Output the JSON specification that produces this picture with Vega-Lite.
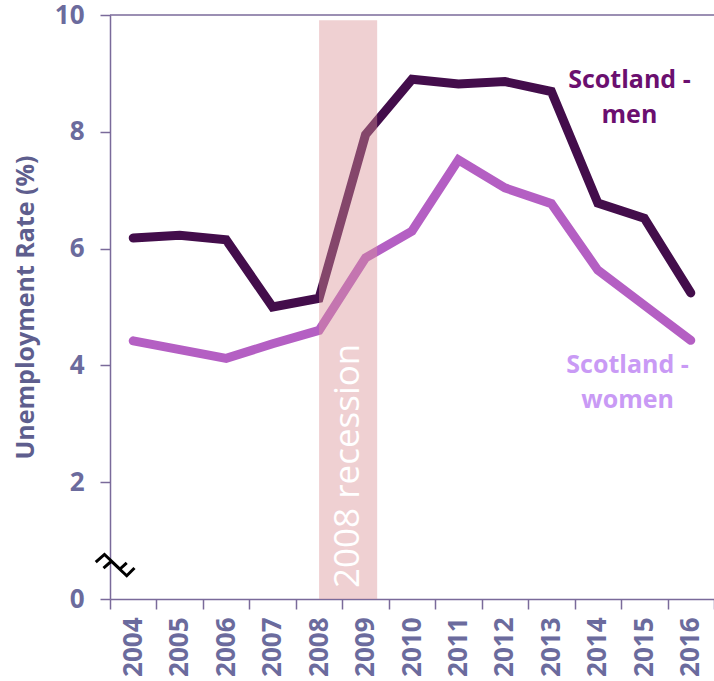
{
  "$schema": "https://vega.github.io/schema/vega-lite/v6.json",
  "autosize": "none",
  "width": 604,
  "height": 584,
  "padding": {"left": 110, "top": 15, "right": 0, "bottom": 82},
  "background": "white",
  "config": {
    "view": {"stroke": null},
    "font": "Open Sans",
    "axis": {"grid": false}
  },
  "datasets": {
    "rates": [
      {"year": "2004", "series": "Scotland - men", "rate": 6.18},
      {"year": "2005", "series": "Scotland - men", "rate": 6.23},
      {"year": "2006", "series": "Scotland - men", "rate": 6.15},
      {"year": "2007", "series": "Scotland - men", "rate": 5.0},
      {"year": "2008", "series": "Scotland - men", "rate": 5.15},
      {"year": "2009", "series": "Scotland - men", "rate": 7.95},
      {"year": "2010", "series": "Scotland - men", "rate": 8.9},
      {"year": "2011", "series": "Scotland - men", "rate": 8.82},
      {"year": "2012", "series": "Scotland - men", "rate": 8.86},
      {"year": "2013", "series": "Scotland - men", "rate": 8.69},
      {"year": "2014", "series": "Scotland - men", "rate": 6.78},
      {"year": "2015", "series": "Scotland - men", "rate": 6.52},
      {"year": "2016", "series": "Scotland - men", "rate": 5.24},
      {"year": "2004", "series": "Scotland - women", "rate": 4.42},
      {"year": "2005", "series": "Scotland - women", "rate": 4.27},
      {"year": "2006", "series": "Scotland - women", "rate": 4.12},
      {"year": "2007", "series": "Scotland - women", "rate": 4.37},
      {"year": "2008", "series": "Scotland - women", "rate": 4.6},
      {"year": "2009", "series": "Scotland - women", "rate": 5.84},
      {"year": "2010", "series": "Scotland - women", "rate": 6.3},
      {"year": "2011", "series": "Scotland - women", "rate": 7.52},
      {"year": "2012", "series": "Scotland - women", "rate": 7.04},
      {"year": "2013", "series": "Scotland - women", "rate": 6.77},
      {"year": "2014", "series": "Scotland - women", "rate": 5.63},
      {"year": "2015", "series": "Scotland - women", "rate": 5.03},
      {"year": "2016", "series": "Scotland - women", "rate": 4.43}
    ],
    "recession": [
      {"start": 2008.0, "end": 2009.25, "top": 9.91, "bottom": 0, "mid": 2008.62, "textY": 2.28, "label": "2008 recession"}
    ],
    "labels": [
      {"x": 2014.68, "y": 8.75, "text": ["Scotland -", "men"], "series": "Scotland - men"},
      {"x": 2014.64, "y": 3.87, "text": ["Scotland -", "women"], "series": "Scotland - women"}
    ],
    "breakmark": [
      {"x": 2003.61, "y": 0.58}
    ]
  },
  "layer": [
    {
      "data": {"name": "rates"},
      "mark": {"type": "line", "strokeWidth": 9, "strokeCap": "round", "strokeJoin": "miter"},
      "encoding": {
        "x": {
          "field": "year", "type": "ordinal",
          "scale": {"type": "band", "paddingInner": 0, "paddingOuter": 0},
          "axis": {
            "title": null,
            "labelAngle": -90,
            "labelFont": "Open Sans",
            "labelFontWeight": "bold",
            "labelFontSize": 26,
            "labelColor": "#6b6b9d",
            "labelPadding": 8,
            "tickBand": "extent",
            "tickSize": 10,
            "tickWidth": 1.5,
            "tickColor": "#7a6a9a",
            "domainColor": "#7a6a9a",
            "domainWidth": 1.5
          }
        },
        "y": {
          "field": "rate", "type": "quantitative",
          "scale": {"domain": [0, 10], "nice": false},
          "axis": {
            "title": "Unemployment Rate (%)",
            "titleFont": "Open Sans",
            "titleFontWeight": "bold",
            "titleFontSize": 25,
            "titleColor": "#5e5e8e",
            "titlePadding": 16,
            "values": [0, 2, 4, 6, 8, 10],
            "format": "d",
            "labelFont": "Open Sans",
            "labelFontWeight": "bold",
            "labelFontSize": 26,
            "labelColor": "#6b6b9d",
            "labelPadding": 16,
            "labelOverlap": false,
            "labelBound": false,
            "tickSize": 10,
            "tickWidth": 1.5,
            "tickColor": "#7a6a9a",
            "domainColor": "#7a6a9a",
            "domainWidth": 1.5
          }
        },
        "color": {
          "field": "series", "type": "nominal",
          "scale": {"domain": ["Scotland - men", "Scotland - women"], "range": ["#430d4b", "#b45fc3"]},
          "legend": null
        }
      }
    },
    {
      "layer": [
        {
          "data": {"values": [{"level": 10}]},
          "mark": {"type": "rule", "color": "#7a6a9a", "strokeWidth": 1.5},
          "encoding": {"y": {"field": "level", "type": "quantitative", "scale": {"domain": [0, 10], "nice": false}, "title": "Unemployment Rate (%)"}}
        },
        {
          "data": {"name": "recession"},
          "mark": {"type": "rect", "color": "#db9196", "opacity": 0.43},
          "encoding": {
            "x": {"field": "start", "type": "quantitative", "scale": {"domain": [2003.5, 2016.5], "nice": false, "zero": false}, "axis": null},
            "x2": {"field": "end"},
            "y": {"field": "bottom", "type": "quantitative", "scale": {"domain": [0, 10], "nice": false}, "title": "Unemployment Rate (%)"},
            "y2": {"field": "top"}
          }
        },
        {
          "data": {"name": "recession"},
          "mark": {"type": "text", "color": "white", "font": "Open Sans", "fontSize": 35, "angle": -90, "align": "center", "baseline": "middle"},
          "encoding": {
            "x": {"field": "mid", "type": "quantitative", "scale": {"domain": [2003.5, 2016.5], "nice": false, "zero": false}, "axis": null},
            "y": {"field": "textY", "type": "quantitative", "scale": {"domain": [0, 10], "nice": false}, "title": "Unemployment Rate (%)"},
            "text": {"field": "label"}
          }
        },
        {
          "data": {"name": "labels"},
          "mark": {"type": "text", "font": "Open Sans", "fontWeight": "bold", "fontSize": 25, "align": "center", "baseline": "alphabetic", "lineHeight": 35},
          "encoding": {
            "x": {"field": "x", "type": "quantitative", "scale": {"domain": [2003.5, 2016.5], "nice": false, "zero": false}, "axis": null},
            "y": {"field": "y", "type": "quantitative", "scale": {"domain": [0, 10], "nice": false}, "title": "Unemployment Rate (%)"},
            "text": {"field": "text"},
            "color": {"field": "series", "type": "nominal", "scale": {"domain": ["Scotland - men", "Scotland - women"], "range": ["#6b0f6f", "#c99af5"]}, "legend": null}
          }
        },
        {
          "data": {"name": "breakmark"},
          "mark": {
            "type": "point",
            "shape": "M-1,-0.15 L-0.55,-0.55 L0.25,0.2 L0.6,-0.12 M-0.6,0.15 L-0.2,-0.2 L0.6,0.55 L1,0.15",
            "size": 1500,
            "filled": false,
            "stroke": "black",
            "strokeWidth": 3,
            "opacity": 1
          },
          "encoding": {
            "x": {"field": "x", "type": "quantitative", "scale": {"domain": [2003.5, 2016.5], "nice": false, "zero": false}, "axis": null},
            "y": {"field": "y", "type": "quantitative", "scale": {"domain": [0, 10], "nice": false}, "title": "Unemployment Rate (%)"}
          }
        }
      ],
      "resolve": {"scale": {"color": "independent"}}
    }
  ],
  "resolve": {"scale": {"x": "independent", "color": "independent"}, "axis": {"x": "independent"}}
}
